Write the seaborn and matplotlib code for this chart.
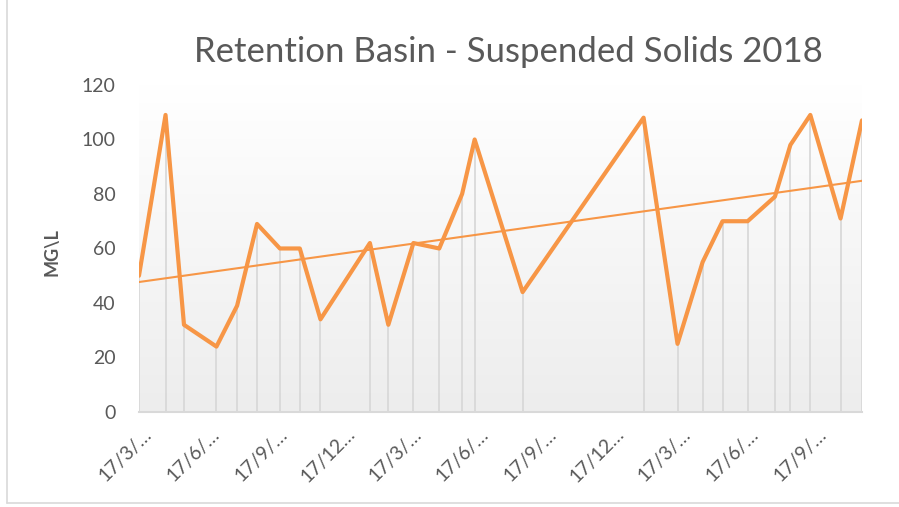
import numpy as np
import pandas as pd
import matplotlib
matplotlib.use("Agg")
import matplotlib.pyplot as plt
import matplotlib.dates as mdates
from matplotlib.colors import LinearSegmentedColormap
from matplotlib.lines import Line2D
from matplotlib.transforms import ScaledTranslation
import seaborn as sns

# sampling dates and suspended solids (mg/L)
sample_dates = [
    "2016-03-17", "2016-04-22", "2016-05-17", "2016-06-30", "2016-07-28",
    "2016-08-24", "2016-09-24", "2016-10-21", "2016-11-18", "2017-01-24",
    "2017-02-18", "2017-03-24", "2017-04-28", "2017-05-29", "2017-06-15",
    "2017-08-19", "2018-01-30", "2018-03-17", "2018-04-20", "2018-05-17",
    "2018-06-20", "2018-07-27", "2018-08-17", "2018-09-13", "2018-10-24",
    "2018-11-22",
]
solids = [50, 109, 32, 24, 39, 69, 60, 60, 34, 62, 32, 62, 60, 80, 100,
          44, 108, 25, 55, 70, 70, 79, 98, 109, 71, 107]

tick_dates = [
    "2016-03-17", "2016-06-17", "2016-09-17", "2016-12-17",
    "2017-03-17", "2017-06-17", "2017-09-17", "2017-12-17",
    "2018-03-17", "2018-06-17", "2018-09-17",
]
tick_labels = ["17/3/…", "17/6/…", "17/9/…", "17/12…",
               "17/3/…", "17/6/…", "17/9/…", "17/12…",
               "17/3/…", "17/6/…", "17/9/…"]
y_ticks = [0, 20, 40, 60, 80, 100, 120]

ORANGE = "#F79646"
GREY_TXT = "#595959"

df = pd.DataFrame({"date": pd.to_datetime(sample_dates), "mg_l": solids})
df["x"] = mdates.date2num(df["date"])

sns.set_theme(style="white")
plt.rcParams["font.family"] = ["Lato", "DejaVu Sans"]

fig = plt.figure(figsize=(8.99, 5.07), dpi=100)
ax = fig.add_axes([0.1546, 0.1874, 0.8042, 0.6450])

x0, x1 = df["x"].min(), df["x"].max()

# plot-area gradient (white at top, light grey at bottom)
grad = np.linspace(0, 1, 256).reshape(-1, 1)
bg = LinearSegmentedColormap.from_list("bg", ["#ffffff", "#ededed"])
ax.imshow(grad, cmap=bg, extent=[x0, x1, 0, 120], aspect="auto", zorder=0)

# drop lines
ax.vlines(df["x"], 0, df["mg_l"], color="#d9d9d9", lw=1.3, zorder=1)

# linear trendline
sns.regplot(data=df, x="x", y="mg_l", scatter=False, ci=None, truncate=True,
            line_kws=dict(color=ORANGE, lw=1.5, zorder=2), ax=ax)

sns.lineplot(data=df, x="x", y="mg_l", color=ORANGE, lw=3, zorder=3, ax=ax)

ax.set_xlim(x0, x1)
ax.set_ylim(0, 120)
ax.set_xlabel("")
ax.set_ylabel("")

for s in ["top", "right", "left"]:
    ax.spines[s].set_visible(False)
ax.spines["bottom"].set_color("#d9d9d9")
ax.spines["bottom"].set_linewidth(1.5)

ax.set_yticks(y_ticks)
ax.set_yticklabels([str(v) for v in y_ticks], color=GREY_TXT, fontsize=14)
ax.tick_params(axis="y", length=0, pad=17)

ax.set_xticks(mdates.date2num(pd.to_datetime(tick_dates)))
ax.set_xticklabels(tick_labels, rotation=45, ha="right", va="center",
                   rotation_mode="anchor", color=GREY_TXT, fontsize=14)
ax.tick_params(axis="x", length=0, pad=14)
shift = ScaledTranslation(10 / 100, 0, fig.dpi_scale_trans)
for lab in ax.get_xticklabels():
    lab.set_transform(lab.get_transform() + shift)

fig.text(0.566, 0.897, "Retention Basin - Suspended Solids 2018",
         ha="center", va="center", fontsize=25, color=GREY_TXT)
fig.text(0.058, 0.503, "MG\\L", rotation=90, ha="center", va="center",
         fontsize=13, fontweight="bold", color=GREY_TXT)

# chart border (left and bottom edges visible in the crop)
fig.add_artist(Line2D([7 / 899, 7 / 899], [4 / 507, 1], transform=fig.transFigure,
                      color="#d9d9d9", lw=1.2))
fig.add_artist(Line2D([7 / 899, 1], [4 / 507, 4 / 507], transform=fig.transFigure,
                      color="#d9d9d9", lw=1.2))

fig.savefig("out.png", dpi=100)
